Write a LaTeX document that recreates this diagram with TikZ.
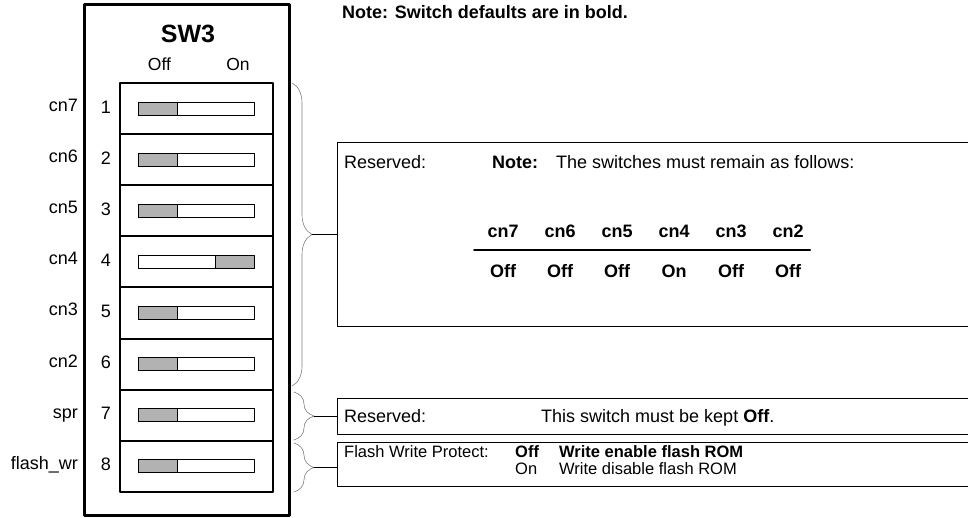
\documentclass[tikz,border=0pt]{standalone}
\usepackage{fontspec}
\setmainfont{Liberation Sans}
\usepackage{tikz}
\usetikzlibrary{calc}
\usetikzlibrary{decorations.pathreplacing}
\tikzset{
  txt/.style={inner sep=0pt,anchor=base west,font=\fontsize{18}{20}\selectfont},
  txtb/.style={txt,font=\fontsize{18}{20}\selectfont\bfseries},
  sml/.style={inner sep=0pt,anchor=base west,font=\fontsize{16.5}{18}\selectfont},
  smlb/.style={sml,font=\fontsize{16.5}{18}\selectfont\bfseries},
  hdr/.style={inner sep=0pt,anchor=base,font=\fontsize{18}{20}\selectfont\bfseries},
  side/.style={inner sep=0pt,anchor=base east,font=\fontsize{18}{20}\selectfont},
  num/.style={inner sep=0pt,anchor=base,font=\fontsize{18}{20}\selectfont},
  rowbox/.style={draw,line width=2pt,inner sep=0pt,outer sep=0pt,minimum width=153pt,minimum height=51.1pt,anchor=north west},
  track/.style={draw,line width=0.8pt,inner sep=0pt,outer sep=0pt,minimum width=116pt,minimum height=13pt},
  knob/.style={draw,fill=black!30,line width=0.8pt,inner sep=0pt,outer sep=0pt,minimum width=39pt,minimum height=13pt},
  infobox/.style={draw,line width=1pt,inner sep=0pt,outer sep=0pt,anchor=north west,minimum width=700pt},
  brc/.style={draw=gray,line width=0.6pt,decorate,decoration={brace,amplitude=20pt}},
}
\begin{document}
\begin{tikzpicture}[x=1pt,y=-1pt,line cap=round,line join=round]
\useasboundingbox (0,0) rectangle (968,518);
\clip (0,0) rectangle (968,518);
\node[draw,line width=3pt,inner sep=0pt,outer sep=0pt,anchor=north west,minimum width=205pt,minimum height=510pt] (sw) at (84,5) {};
\node[inner sep=0pt,anchor=base,font=\fontsize{25}{28}\selectfont\bfseries] (title) at (188,43) {SW3};
\node[num,font=\fontsize{17.5}{20}\selectfont] (off) at (159.5,71) {Off};
\node[num,font=\fontsize{17.5}{20}\selectfont] (on) at (238,71) {On};
\foreach \i/\lab/\pos in {1/cn7/west,2/cn6/west,3/cn5/west,4/cn4/east,5/cn3/west,6/cn2/west,7/spr/west,8/flash\_wr/west}{
  \pgfmathsetmacro\yt{83+(\i-1)*51.1}
  \node[rowbox] (row\i) at (120,\yt) {};
  \node[track] (trk\i) at (row\i.center) {};
  \node[knob,anchor=\pos] (knb\i) at (trk\i.\pos) {};
  \node[num] (num\i) at ($(row\i.center)+(-90.5,4.5)$) {\i};
  \node[side] (lab\i) at ($(row\i.center)+(-118.5,3)$) {\lab};
}
\node[txtb] (note) at (342,19) {Note: Switch defaults are in bold.};
\node[infobox,minimum height=183pt] (resv) at (337,143) {};
\node[infobox,minimum height=36pt] (spr) at (337,398) {};
\node[infobox,minimum height=44pt] (fwp) at (337,442) {};
\draw[brc] (292,83) -- (292,386);
\draw[brc] (294,392) -- (294,440);
\draw[brc] (294,443) -- (294,492);
\coordinate (tip1) at (312,234.5);
\coordinate (tip2) at (314,416);
\coordinate (tip3) at (314,467.5);
\draw (tip1) -- (tip1 -| resv.west);
\draw (tip2) -- (tip2 -| spr.west);
\draw (tip3) -- (tip3 -| fwp.west);
\node[txt] (res1) at (344,169) {Reserved:};
\node[txtb] (nt1) at (492,169) {Note:};
\node[txt] (nt2) at (556,169) {The switches must remain as follows:};
\foreach \c/\x/\v in {cn7/503/Off,cn6/560/Off,cn5/617/Off,cn4/674/On,cn3/731/Off,cn2/788/Off}{
  \node[hdr] (h\c) at (\x,237.5) {\c};
  \node[hdr] (v\c) at (\x,277.5) {\v};
}
\draw[line width=2pt] (474,250) -- (810,250);
\node[txt] (res2) at (344,422.5) {Reserved:};
\node[txt] (keep) at (541,422.5) {This switch must be kept \textbf{Off}.};
\node[sml] (fw) at (344,457.5) {Flash Write Protect:};
\node[smlb] (fwoff) at (515,457.5) {Off};
\node[smlb] (fwen) at (559,457.5) {Write enable flash ROM};
\node[sml] (fwon) at (515,474.5) {On};
\node[sml] (fwdis) at (559,474.5) {Write disable flash ROM};
\end{tikzpicture}
\end{document}
